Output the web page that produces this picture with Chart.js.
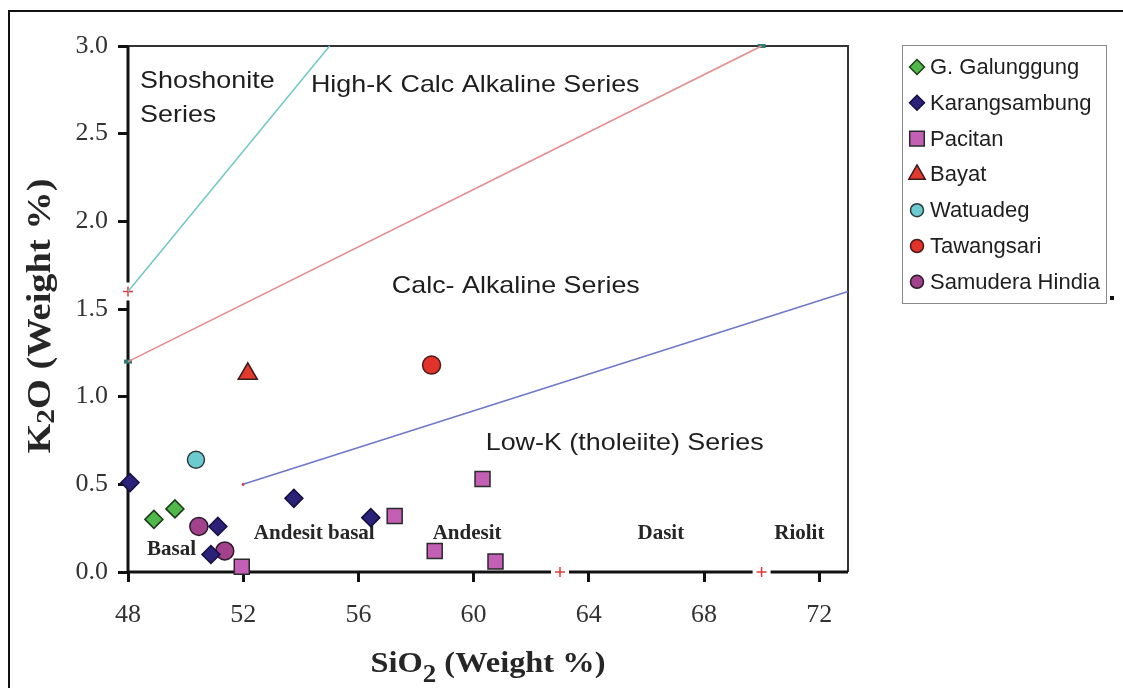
<!DOCTYPE html>
<html><head><meta charset="utf-8">
<script src="https://cdn.jsdelivr.net/npm/chart.js@4.4.1/dist/chart.umd.min.js"></script>
<style>html,body{margin:0;padding:0;background:#fff;overflow:hidden}</style>
</head><body>
<canvas id="c" width="1123" height="688"></canvas>
<script>
// ---------- DATA ----------
const xTicks = [48, 52, 56, 60, 64, 68, 72];
const yTicks = [0, 0.5, 1.0, 1.5, 2.0, 2.5, 3.0];

const seriesNames = ['G. Galunggung', 'Karangsambung', 'Pacitan', 'Bayat', 'Watuadeg', 'Tawangsari', 'Samudera Hindia'];

const galunggungX = [48.90, 49.63];
const galunggungY = [0.30, 0.36];
const karangsambungX = [48.07, 51.12, 50.88, 53.76, 56.43];
const karangsambungY = [0.51, 0.26, 0.10, 0.42, 0.31];
const pacitanX = [51.95, 57.26, 58.65, 60.31, 60.76];
const pacitanY = [0.03, 0.32, 0.12, 0.53, 0.06];
const bayatX = [52.16];
const bayatY = [1.13];
const watuadegX = [50.36];
const watuadegY = [0.64];
const tawangsariX = [58.54];
const tawangsariY = [1.18];
const samuderaX = [50.46, 51.36];
const samuderaY = [0.26, 0.12];

// boundary lines
const shoshoniteLineX = [48, 55];
const shoshoniteLineY = [1.6, 3.0];
const highKLineX = [48, 70];
const highKLineY = [1.2, 3.0];
const lowKLineX = [52, 73];
const lowKLineY = [0.5, 1.6];

// region / rock labels (data coordinates of text start, baseline)
const seriesLabels = ['Shoshonite', 'Series', 'High-K Calc Alkaline Series', 'Calc- Alkaline Series', 'Low-K (tholeiite) Series'];
const seriesLabelX = [48.42, 48.42, 54.35, 57.16, 60.42];
const seriesLabelY = [2.761, 2.567, 2.738, 1.592, 0.696];
const rockLabels = ['Basal', 'Andesit basal', 'Andesit', 'Dasit', 'Riolit'];
const rockLabelX = [48.66, 52.37, 58.58, 65.69, 70.44];
const rockLabelY = [0.097, 0.188, 0.188, 0.188, 0.188];

// axis breaks and small marks
const xAxisBreaks = [63, 70];
const yAxisBreaks = [1.6];
const crossMarkX = [48, 63, 70];
const crossMarkY = [1.6, 0, 0];
const dotMarkX = [52];
const dotMarkY = [0.5];
const tealMarkX = [48, 70];
const tealMarkY = [1.2, 3.0];

// ---------- BUILD ----------
const toPts = (xs, ys) => xs.map((x, i) => ({x, y: ys[i]}));
const styles = [
  {bg:'#4fb848', bd:'#1e3a1e', ps:'rectRot', r:9, lr:7.5},
  {bg:'#2b2178', bd:'#15103f', ps:'rectRot', r:9, lr:7.5},
  {bg:'#c45fb6', bd:'#2a2a2a', ps:'rect', r:10.6, lr:10.3},
  {bg:'#e23a2e', bd:'#3a1a1a', ps:'triangle', r:11, lr:9.5},
  {bg:'#6ccbd0', bd:'#2a3a3a', ps:'circle', r:8.5, lr:6.5},
  {bg:'#e2332b', bd:'#4a1a1a', ps:'circle', r:9, lr:6.5},
  {bg:'#a2418c', bd:'#2a1a2a', ps:'circle', r:9, lr:6.5}
];
const seriesXs = [galunggungX, karangsambungX, pacitanX, bayatX, watuadegX, tawangsariX, samuderaX];
const seriesYs = [galunggungY, karangsambungY, pacitanY, bayatY, watuadegY, tawangsariY, samuderaY];

const datasets = seriesNames.map((name, i) => ({
  label: name,
  data: toPts(seriesXs[i], seriesYs[i]),
  pointStyle: styles[i].ps,
  pointRadius: styles[i].r,
  pointBackgroundColor: styles[i].bg,
  pointBorderColor: styles[i].bd,
  pointBorderWidth: 1.5,
  showLine: false,
  clip: false,
  isPoint: true
}));
const lineDefs = [
  {xs: shoshoniteLineX, ys: shoshoniteLineY, c: '#74c9c6'},
  {xs: highKLineX, ys: highKLineY, c: '#e48b8b'},
  {xs: lowKLineX, ys: lowKLineY, c: '#6f78c8'}
];
lineDefs.forEach(l => datasets.push({
  label: '',
  data: toPts(l.xs, l.ys),
  showLine: true,
  borderColor: l.c,
  borderWidth: 1.6,
  pointRadius: 0,
  fill: false,
  clip: false,
  isPoint: false
}));

function stretchText(ctx, t, x, y, sx) {
  ctx.save(); ctx.translate(x, y); ctx.scale(sx, 1); ctx.fillText(t, 0, 0); ctx.restore();
}
function drawParts(ctx, parts, sx) {
  let total = 0;
  parts.forEach(p => { ctx.font = p[1]; total += ctx.measureText(p[0]).width; });
  let x = -total / 2;
  ctx.save(); ctx.scale(sx, 1);
  parts.forEach(p => { ctx.font = p[1]; ctx.fillText(p[0], x, p[2]); x += ctx.measureText(p[0]).width; });
  ctx.restore();
}

const decor = {
  id: 'decor',
  beforeDatasetsDraw(chart) {
    const ctx = chart.ctx, xs = chart.scales.x, ys = chart.scales.y, a = chart.chartArea;
    ctx.save();
    ctx.fillStyle = '#1e1e1e';
    ctx.textBaseline = 'alphabetic'; ctx.textAlign = 'left';
    ctx.font = '24px "Liberation Sans", Arial, sans-serif';
    seriesLabels.forEach((t, i) => stretchText(ctx, t, xs.getPixelForValue(seriesLabelX[i]), ys.getPixelForValue(seriesLabelY[i]), 1.12));
    ctx.fillStyle = '#262626';
    ctx.font = 'bold 21px "Liberation Serif", "Times New Roman", serif';
    rockLabels.forEach((t, i) => ctx.fillText(t, xs.getPixelForValue(rockLabelX[i]), ys.getPixelForValue(rockLabelY[i])));

    ctx.strokeStyle = '#333'; ctx.lineWidth = 2;
    ctx.beginPath();
    ctx.moveTo(a.left, a.top); ctx.lineTo(a.right, a.top); ctx.lineTo(a.right, a.bottom);
    ctx.stroke();

    ctx.strokeStyle = '#111'; ctx.lineWidth = 3;
    const gap = 9;
    let segs = [a.left - 1];
    xAxisBreaks.forEach(v => { const p = xs.getPixelForValue(v); segs.push(p - gap, p + gap); });
    segs.push(a.right);
    for (let i = 0; i < segs.length; i += 2) {
      ctx.beginPath(); ctx.moveTo(segs[i], a.bottom); ctx.lineTo(segs[i + 1], a.bottom); ctx.stroke();
    }
    segs = [a.bottom + 1];
    yAxisBreaks.forEach(v => { const p = ys.getPixelForValue(v); segs.push(p + gap, p - gap); });
    segs.push(a.top);
    for (let i = 0; i < segs.length; i += 2) {
      ctx.beginPath(); ctx.moveTo(a.left, segs[i]); ctx.lineTo(a.left, segs[i + 1]); ctx.stroke();
    }
    ctx.strokeStyle = '#e23b3b'; ctx.lineWidth = 1.5;
    crossMarkX.forEach((v, i) => {
      const px = xs.getPixelForValue(v), py = ys.getPixelForValue(crossMarkY[i]);
      ctx.beginPath(); ctx.moveTo(px - 5, py); ctx.lineTo(px + 5, py); ctx.moveTo(px, py - 5); ctx.lineTo(px, py + 5); ctx.stroke();
    });
    ctx.fillStyle = '#e23b3b';
    dotMarkX.forEach((v, i) => {
      ctx.beginPath(); ctx.arc(xs.getPixelForValue(v), ys.getPixelForValue(dotMarkY[i]), 1.6, 0, Math.PI * 2); ctx.fill();
    });
    ctx.fillStyle = '#2f7a72';
    tealMarkX.forEach((v, i) => {
      const px = xs.getPixelForValue(v), py = ys.getPixelForValue(tealMarkY[i]);
      ctx.fillRect(px - 4, py - 2, 8, 4);
    });
    ctx.restore();
  },
  afterDraw(chart) {
    const ctx = chart.ctx, a = chart.chartArea;
    ctx.save();
    ctx.strokeStyle = '#111'; ctx.lineWidth = 2;
    ctx.beginPath(); ctx.moveTo(9, 688); ctx.lineTo(9, 11); ctx.lineTo(1123, 11); ctx.stroke();

    ctx.fillStyle = '#262626'; ctx.textBaseline = 'alphabetic'; ctx.textAlign = 'left';
    ctx.save();
    ctx.translate((a.left + a.right) / 2, a.bottom + 100);
    drawParts(ctx, [['SiO', 'bold 30px "Liberation Serif", serif', 0], ['2', 'bold 25px "Liberation Serif", serif', 10], [' (Weight %)', 'bold 30px "Liberation Serif", serif', 0]], 1.08);
    ctx.restore();
    ctx.save();
    ctx.translate(50, 316);
    ctx.rotate(-Math.PI / 2);
    drawParts(ctx, [['K', 'bold 34px "Liberation Serif", serif', 0], ['2', 'bold 26px "Liberation Serif", serif', 4], ['O (Weight %)', 'bold 34px "Liberation Serif", serif', 0]], 1.13);
    ctx.restore();

    const lx = 902, ly = 45, lw = 204, lh = 258;
    ctx.strokeStyle = '#8a8a8a'; ctx.lineWidth = 1;
    ctx.strokeRect(lx + 0.5, ly + 0.5, lw, lh);
    ctx.fillStyle = '#111';
    ctx.fillRect(lx + lw + 4, ly + lh - 7, 4, 4);
    const pts = chart.data.datasets.filter(d => d.isPoint);
    ctx.font = '22px "Liberation Sans", Arial, sans-serif';
    ctx.textBaseline = 'middle';
    pts.forEach((d, i) => {
      const cy = 67 + i * 35.8;
      const st = styles[i];
      ctx.fillStyle = d.pointBackgroundColor; ctx.strokeStyle = d.pointBorderColor; ctx.lineWidth = 1.5;
      Chart.helpers.drawPoint(ctx, {pointStyle: st.ps, radius: st.lr, rotation: 0, borderWidth: 1.5}, 917, cy);
      ctx.fillStyle = '#1e1e1e';
      ctx.fillText(d.label, 930, cy + 1);
    });
    ctx.restore();
  }
};

new Chart(document.getElementById('c'), {
  type: 'scatter',
  data: {datasets},
  options: {
    responsive: false,
    devicePixelRatio: 1,
    animation: false,
    layout: {padding: {left: 0, top: 46, right: 275, bottom: 0}},
    plugins: {legend: {display: false}, tooltip: {enabled: false}},
    scales: {
      x: {
        type: 'linear', min: 48, max: 73,
        afterBuildTicks: s => { s.ticks = xTicks.map(v => ({value: v})); },
        afterFit: s => { s.height = 116; },
        border: {display: false},
        grid: {display: true, drawOnChartArea: false, drawTicks: true, tickLength: 10, color: '#111', lineWidth: 3},
        ticks: {color: '#333', padding: 18, maxRotation: 0, autoSkip: false,
                font: {family: '"Liberation Serif", "Times New Roman", serif', size: 26}}
      },
      y: {
        type: 'linear', min: 0, max: 3,
        afterBuildTicks: s => { s.ticks = yTicks.map(v => ({value: v})); },
        afterFit: s => { s.width = 128; },
        border: {display: false},
        grid: {display: true, drawOnChartArea: false, drawTicks: true, tickLength: 10, color: '#111', lineWidth: 3},
        ticks: {color: '#333', padding: 10, autoSkip: false,
                callback: v => Number(v).toFixed(1),
                font: {family: '"Liberation Serif", "Times New Roman", serif', size: 26}}
      }
    }
  },
  plugins: [decor]
});
</script>
</body></html>
